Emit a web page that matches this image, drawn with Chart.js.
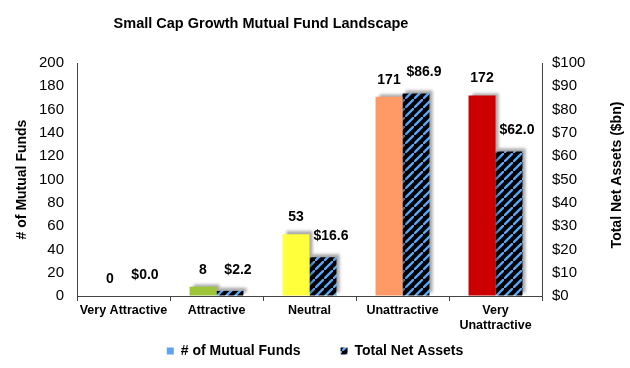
<!DOCTYPE html>
<html lang="en">
<head>
  <meta charset="UTF-8">
  <title>Small Cap Growth Mutual Fund Landscape</title>
  <script src="https://cdn.jsdelivr.net/npm/chart.js"></script>
  <style>
    html, body { margin: 0; padding: 0; background: #fff; }
    #wrap { width: 630px; height: 368px; }
  </style>
</head>
<body>
  <div id="wrap">
    <canvas id="myChart" width="630" height="368"></canvas>
  </div>

  <script>
    // data
    const categories = ['Very Attractive', 'Attractive', 'Neutral', 'Unattractive', ['Very', 'Unattractive']];
    const fundCounts = [0, 8, 53, 171, 172];
    const netAssets = [0.0, 2.2, 16.6, 86.9, 62.0];
    const fundColors = ['#339933', '#9dc53a', '#ffff3c', '#ff9966', '#cc0000'];
    const chartTitle = 'Small Cap Growth Mutual Fund Landscape';
    const leftTitle = '# of Mutual Funds';
    const rightTitle = 'Total Net Assets ($bn)';
    const legendNames = ['# of Mutual Funds', 'Total Net Assets'];

    const FONT = "'Liberation Sans', Arial, sans-serif";
    const AXIS = '#444';

    let canvas = document.getElementById('myChart');
    let ctx = canvas.getContext('2d');

    // black background with blue diagonal stripes
    function creaTratteggio() {
      let n = 9;
      let tile = document.createElement('canvas');
      tile.width = n;
      tile.height = n;
      let g = tile.getContext('2d');
      g.fillStyle = '#000';
      g.fillRect(0, 0, n, n);
      g.strokeStyle = '#5aa5f5';
      g.lineWidth = 2.4;
      g.beginPath();
      g.moveTo(-1, n + 1); g.lineTo(n + 1, -1);
      g.moveTo(-n - 1, n + 1 - n); g.lineTo(1, -n - 1 + 0);
      g.moveTo(-1 + n, 2 * n + 1); g.lineTo(2 * n + 1, n - 1);
      g.stroke();
      return ctx.createPattern(tile, 'repeat');
    }
    let hatch = creaTratteggio();

    const shadowPlugin = {
      id: 'barShadow',
      beforeDatasetsDraw(chart) {
        let c = chart.ctx;
        c.save();
        c.shadowColor = 'rgba(0,0,0,0.35)';
        c.shadowBlur = 3;
        c.shadowOffsetX = 3;
        c.shadowOffsetY = -3;
      },
      afterDatasetsDraw(chart) {
        chart.ctx.restore();
      }
    };

    const labelsPlugin = {
      id: 'barLabels',
      afterDraw(chart) {
        let c = chart.ctx;
        c.save();
        c.fillStyle = '#000';
        c.font = 'bold 14px ' + FONT;
        c.textAlign = 'center';
        c.textBaseline = 'middle';
        chart.data.datasets.forEach((ds, i) => {
          chart.getDatasetMeta(i).data.forEach((bar, j) => {
            let v = ds.data[j];
            if (i === 0) {
              c.fillText(String(v), bar.x, bar.y - 17);
            } else {
              c.fillText('$' + v.toFixed(1), bar.x + 8, bar.y - 21);
            }
          });
        });

        // chart title
        c.font = 'bold 14.5px ' + FONT;
        c.fillText(chartTitle, 261, 24);

        // right axis title, reading bottom to top
        c.font = 'bold 14px ' + FONT;
        c.translate(617, 175);
        c.rotate(-Math.PI / 2);
        c.fillText(rightTitle, 0, 0);
        c.restore();
      }
    };

    // legend: wide gap between the two items but a short box under the axis labels
    const legendFit = {
      id: 'legendFit',
      afterInit(chart) {
        let lg = chart.legend;
        if (!lg) return;
        let origFit = lg.fit;
        let origDraw = lg.draw;
        lg.fit = function () {
          origFit.call(this);
          this.height = 32;
        };
        lg.draw = function () {
          let t = this.top;
          this.top = t - 32;
          origDraw.call(this);
          this.top = t;
        };
      }
    };

    let chart = new Chart(ctx, {
      type: 'bar',
      data: {
        labels: categories,
        datasets: [{
          label: legendNames[0],
          data: fundCounts,
          backgroundColor: fundColors,
          yAxisID: 'y',
          categoryPercentage: 0.58,
          barPercentage: 1.0
        }, {
          label: legendNames[1],
          data: netAssets,
          backgroundColor: hatch,
          yAxisID: 'y1',
          categoryPercentage: 0.58,
          barPercentage: 1.0
        }]
      },
      options: {
        responsive: false,
        animation: false,
        layout: { padding: { top: 63, left: 0, right: 0, bottom: 0 } },
        plugins: {
          title: { display: false },
          tooltip: { enabled: false },
          legend: {
            position: 'bottom',
            labels: {
              boxWidth: 7,
              boxHeight: 7,
              padding: 40,
              color: '#000',
              font: { family: FONT, size: 14, weight: 'bold' },
              generateLabels() {
                return [
                  { text: legendNames[0], fillStyle: '#5aa5f5', strokeStyle: '#5aa5f5', lineWidth: 0, datasetIndex: 0 },
                  { text: legendNames[1], fillStyle: hatch, strokeStyle: '#000', lineWidth: 0, datasetIndex: 1 }
                ];
              }
            }
          }
        },
        scales: {
          x: {
            afterFit(s) { s.height = 40; },
            grid: { offset: true, drawOnChartArea: false, drawTicks: true, tickLength: 5, color: AXIS },
            border: { display: true, color: AXIS },
            ticks: {
              color: '#000',
              padding: 2,
              maxRotation: 0,
              autoSkip: false,
              font: { family: FONT, size: 12.5, weight: 'bold' }
            }
          },
          y: {
            position: 'left',
            min: 0,
            max: 200,
            afterFit(s) { s.width = 77; },
            grid: { drawOnChartArea: false, drawTicks: false },
            border: { display: true, color: AXIS },
            ticks: {
              stepSize: 20,
              color: '#000',
              padding: 13,
              font: { family: FONT, size: 15 }
            },
            title: {
              display: true,
              text: leftTitle,
              color: '#000',
              padding: 14,
              font: { family: FONT, size: 14, weight: 'bold' }
            }
          },
          y1: {
            position: 'right',
            min: 0,
            max: 100,
            afterFit(s) { s.width = 88; },
            grid: { drawOnChartArea: false, drawTicks: false },
            border: { display: true, color: AXIS },
            ticks: {
              stepSize: 10,
              color: '#000',
              padding: 10,
              font: { family: FONT, size: 15 },
              callback: (v) => '$' + v
            }
          }
        }
      },
      plugins: [legendFit, shadowPlugin, labelsPlugin]
    });
  </script>
</body>
</html>
